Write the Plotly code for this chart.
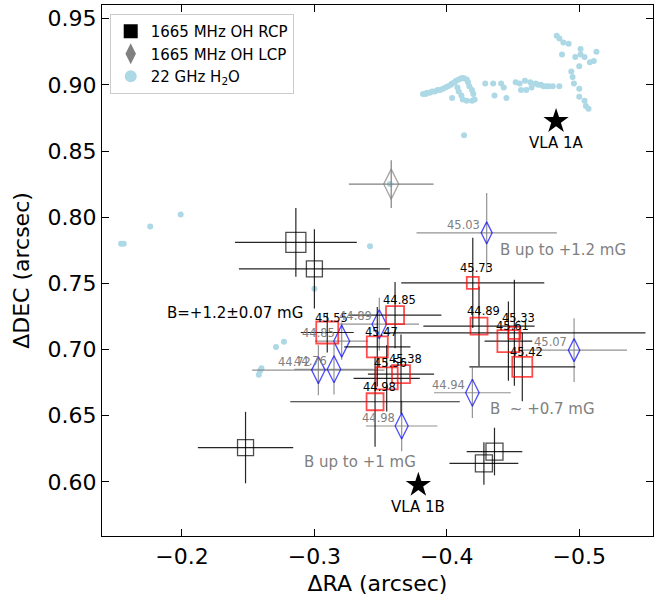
import plotly.graph_objects as go

# ---------------- data ----------------
# 22 GHz H2O masers
h2o_ra = [-0.483, -0.485, -0.488, -0.492, -0.487, -0.501, -0.501, -0.497, -0.504, -0.513, -0.508, -0.511,
          -0.500, -0.494, -0.495, -0.496, -0.500, -0.500, -0.504, -0.507, -0.505,
          -0.382, -0.385, -0.389, -0.393, -0.397, -0.401, -0.404, -0.407, -0.409, -0.412, -0.415, -0.416,
          -0.417, -0.419, -0.420, -0.421, -0.419, -0.415, -0.412, -0.411, -0.409, -0.408, -0.404,
          -0.384, -0.387, -0.391, -0.395, -0.399, -0.403, -0.406, -0.411, -0.413,
          -0.429, -0.435, -0.441, -0.443, -0.436, -0.445, -0.452, -0.459, -0.463, -0.467, -0.471, -0.475,
          -0.480, -0.485, -0.456, -0.460, -0.464, -0.455, -0.469, -0.473, -0.477,
          -0.413,
          -0.154, -0.156, -0.176, -0.199, -0.342, -0.300, -0.357, -0.277, -0.271, -0.260, -0.259, -0.258]
h2o_dec = [0.937, 0.935, 0.932, 0.931, 0.923, 0.927, 0.923, 0.921, 0.921, 0.925, 0.917, 0.918,
           0.914, 0.910, 0.906, 0.901, 0.897, 0.891, 0.888, 0.882, 0.884,
           0.893, 0.894, 0.895, 0.896, 0.897, 0.899, 0.901, 0.903, 0.904, 0.905, 0.904, 0.902,
           0.899, 0.896, 0.893, 0.889, 0.888, 0.888, 0.889, 0.892, 0.895, 0.898, 0.890,
           0.893, 0.894, 0.895, 0.896, 0.898, 0.900, 0.902, 0.905, 0.905,
           0.901, 0.901, 0.901, 0.898, 0.892, 0.890, 0.902, 0.903, 0.902, 0.901, 0.900, 0.899,
           0.899, 0.899, 0.896, 0.896, 0.898, 0.901, 0.900, 0.899, 0.899,
           0.862,
           0.780, 0.780, 0.793, 0.802, 0.778, 0.746, 0.825, 0.706, 0.702, 0.686, 0.684, 0.681]

# 1665 MHz OH RCP without Zeeman partner (black squares)
rcp_ra = [-0.286, -0.300, -0.248, -0.436, -0.428]
rcp_dec = [0.781, 0.761, 0.626, 0.623, 0.614]
rcp_era = [0.046, 0.057, 0.036, 0.021, 0.026]
rcp_edec = [0.026, 0.030, 0.027, 0.018, 0.016]
rcp_size = [20, 16, 16, 17, 17]

# 1665 MHz OH LCP without Zeeman partner (grey diamond)
lcp_ra = [-0.358]
lcp_dec = [0.825]
lcp_era = [0.032]
lcp_edec = [0.018]
lcp_size = [30]

# Zeeman pairs: RCP components (red squares) with velocities
zr_vel = ["45.73", "44.85", "44.89", "45.33", "45.61", "45.42", "45.55", "45.47", "45.56", "45.38", "44.98"]
zr_ra = [-0.4196, -0.3609, -0.4243, -0.4510, -0.4465, -0.4570, -0.3097, -0.3475, -0.3546, -0.3654, -0.3458]
zr_dec = [0.7504, 0.7260, 0.7177, 0.7127, 0.7064, 0.6870, 0.7129, 0.7021, 0.6783, 0.6815, 0.6606]
zr_era = [0.054, 0.035, 0.042, 0.099, 0.018, 0.040, 0.020, 0.025, 0.025, 0.025, 0.064]
zr_edec = [0.034, 0.025, 0.030, 0.040, 0.030, 0.026, 0.015, 0.030, 0.025, 0.030, 0.034]
zr_size = [12, 18, 17, 12, 22, 20, 22, 21, 22, 18, 17]

# Zeeman pairs: LCP components (blue diamonds) with velocities
zl_vel = ["45.03", "45.07", "44.94", "44.98", "44.89", "44.85", "44.72", "44.76"]
zl_ra = [-0.4301, -0.4961, -0.4193, -0.3659, -0.3490, -0.3206, -0.3030, -0.3148]
zl_dec = [0.7882, 0.6996, 0.6674, 0.6423, 0.7192, 0.7064, 0.6845, 0.6851]
zl_era = [0.053, 0.040, 0.029, 0.027, 0.030, 0.020, 0.050, 0.030]
zl_edec = [0.030, 0.024, 0.019, 0.019, 0.020, 0.014, 0.019, 0.019]
zl_size = [22, 23, 27, 26, 29, 32, 27, 27]

# continuum sources
vla_names = ["VLA 1A", "VLA 1B"]
vla_ra = [-0.4825, -0.3785]
vla_dec = [0.8725, 0.5977]

# field notes
note_text = ["B=+1.2±0.07 mG", "B up to +1.2 mG", "B\u00a0 ~ +0.7 mG", "B up to +1 mG"]
note_ra = [-0.240, -0.488, -0.4723, -0.3344]
note_dec = [0.7275, 0.775, 0.6549, 0.6153]
note_color = ["black", "gray", "gray", "gray"]

FONT = "DejaVu Sans"
fig = go.Figure()

# water masers
fig.add_trace(go.Scatter(x=h2o_ra, y=h2o_dec, mode="markers", showlegend=False,
                         marker=dict(symbol="circle", size=6, color="#add8e6", line=dict(width=0))))

# unpaired RCP
fig.add_trace(go.Scatter(x=rcp_ra, y=rcp_dec, mode="markers", showlegend=False,
                         error_x=dict(type="data", array=rcp_era, color="rgba(0,0,0,0.85)", thickness=1.2, width=0),
                         error_y=dict(type="data", array=rcp_edec, color="rgba(0,0,0,0.85)", thickness=1.2, width=0),
                         marker=dict(symbol="square-open", size=rcp_size, color="black", line=dict(width=1.3))))

# unpaired LCP
fig.add_trace(go.Scatter(x=lcp_ra, y=lcp_dec, mode="markers", showlegend=False,
                         error_x=dict(type="data", array=lcp_era, color="gray", thickness=1.2, width=0),
                         error_y=dict(type="data", array=lcp_edec, color="gray", thickness=1.2, width=0),
                         marker=dict(symbol="diamond-tall-open", size=[s / 1.4 for s in lcp_size], color="gray",
                                     line=dict(width=1.3))))

# Zeeman LCP
fig.add_trace(go.Scatter(x=zl_ra, y=zl_dec, mode="markers", showlegend=False,
                         error_x=dict(type="data", array=zl_era, color="rgba(128,128,128,0.85)", thickness=1.2, width=0),
                         error_y=dict(type="data", array=zl_edec, color="rgba(128,128,128,0.85)", thickness=1.2, width=0),
                         marker=dict(symbol="diamond-tall-open", size=[s / 1.4 for s in zl_size], color="blue",
                                     line=dict(width=1.3))))

# Zeeman RCP
fig.add_trace(go.Scatter(x=zr_ra, y=zr_dec, mode="markers", showlegend=False,
                         error_x=dict(type="data", array=zr_era, color="rgba(0,0,0,0.85)", thickness=1.2, width=0),
                         error_y=dict(type="data", array=zr_edec, color="rgba(0,0,0,0.85)", thickness=1.2, width=0),
                         marker=dict(symbol="square-open", size=zr_size, color="red", line=dict(width=1.8))))

# stars
fig.add_trace(go.Scatter(x=vla_ra, y=vla_dec, mode="markers", showlegend=False,
                         marker=dict(symbol="star", size=19, color="black", line=dict(width=0))))

# legend proxies
fig.add_trace(go.Scatter(x=[None], y=[None], mode="markers", name="1665 MHz OH RCP",
                         marker=dict(symbol="square", size=14, color="black")))
fig.add_trace(go.Scatter(x=[None], y=[None], mode="markers", name="1665 MHz OH LCP",
                         marker=dict(symbol="diamond-tall", size=15, color="gray")))
fig.add_trace(go.Scatter(x=[None], y=[None], mode="markers", name="22 GHz H<sub>2</sub>O",
                         marker=dict(symbol="circle", size=12, color="#add8e6")))

ann = []
for v, x, y in zip(zr_vel, zr_ra, zr_dec):
    ann.append(dict(x=x, y=y, text=v, showarrow=False, xshift=4, yshift=15,
                    font=dict(family=FONT, size=11.5, color="black")))
for v, x, y in zip(zl_vel, zl_ra, zl_dec):
    ann.append(dict(x=x, y=y, text=v, showarrow=False, xanchor="right", xshift=-5, yshift=8,
                    font=dict(family=FONT, size=11.5, color="gray")))
for n, x, y in zip(vla_names, vla_ra, vla_dec):
    ann.append(dict(x=x, y=y, text=n, showarrow=False, yshift=-22,
                    font=dict(family=FONT, size=15, color="black")))
for t, x, y, c in zip(note_text, note_ra, note_dec, note_color):
    ann.append(dict(x=x, y=y, text=t, showarrow=False,
                    font=dict(family=FONT, size=15, color=c)))

axis_common = dict(showline=True, linecolor="black", linewidth=1.3, mirror="allticks",
                   ticks="inside", ticklen=7, tickwidth=1.3, tickcolor="black",
                   showgrid=False, zeroline=False, automargin=False,
                   tickfont=dict(family=FONT, size=22, color="black"))

fig.update_layout(
    width=656, height=599,
    margin=dict(l=102, r=3, t=5, b=63),
    paper_bgcolor="white", plot_bgcolor="white",
    font=dict(family=FONT, color="black"),
    annotations=ann,
    legend=dict(x=0.014, y=0.983, xanchor="left", yanchor="top",
                bgcolor="rgba(255,255,255,0.8)", bordercolor="#cccccc", borderwidth=1,
                font=dict(family=FONT, size=15, color="black")),
    xaxis=dict(range=[-0.1396, -0.5557], tickvals=[-0.2, -0.3, -0.4, -0.5], tickformat=".1f",
               title=dict(text="ΔRA (arcsec)", font=dict(family=FONT, size=22), standoff=8),
               **axis_common),
    yaxis=dict(range=[0.5592, 0.9603], tickvals=[0.60, 0.65, 0.70, 0.75, 0.80, 0.85, 0.90, 0.95],
               tickformat=".2f",
               title=dict(text="ΔDEC (arcsec)", font=dict(family=FONT, size=22), standoff=11),
               **axis_common),
)

fig.write_html("out.html")
